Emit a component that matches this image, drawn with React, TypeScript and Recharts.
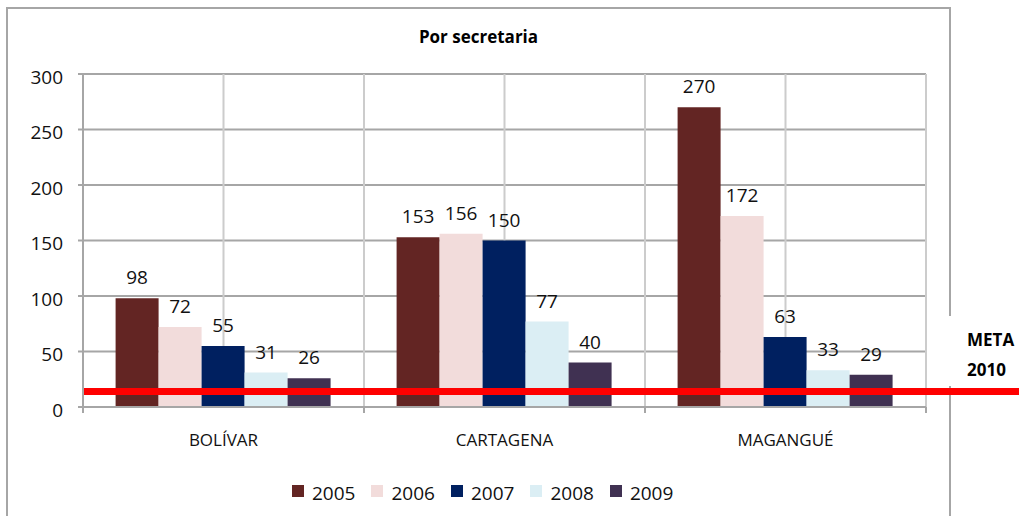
import { BarChart, Bar, XAxis, YAxis, CartesianGrid, Legend, ReferenceLine, LabelList } from "recharts"

const categories = ["BOLÍVAR", "CARTAGENA", "MAGANGUÉ"]
const years = ["2005", "2006", "2007", "2008", "2009"]
const values2005 = [98, 153, 270]
const values2006 = [72, 156, 172]
const values2007 = [55, 150, 63]
const values2008 = [31, 77, 33]
const values2009 = [26, 40, 29]
const yTicks = [0, 50, 100, 150, 200, 250, 300]
const meta2010 = 14

const seriesValues = [values2005, values2006, values2007, values2008, values2009]
const YEAR_COLORS = ["#632523", "#f2dcdb", "#002060", "#dbeef4", "#403152"]

const data = categories.map((name, i) => {
  const row: Record<string, string | number> = { name }
  years.forEach((year, j) => {
    row[year] = seriesValues[j][i]
  })
  return row
})

const CHART_W = 1019
const CHART_H = 516
const PLOT_LEFT = 83
const PLOT_RIGHT = 926
const PLOT_BOTTOM = 407
const LEGEND_H = 24
const GRID_H = "#a6a6a6"
const GRID_V = "#cccccc"
const FONT = "'Open Sans', sans-serif"

function CategoryTick(props: any) {
  const { x, payload, index } = props
  const band = (PLOT_RIGHT - PLOT_LEFT) / categories.length
  return (
    <g>
      <line x1={x - band / 2} x2={x - band / 2} y1={PLOT_BOTTOM} y2={PLOT_BOTTOM + 6} stroke={GRID_H} strokeWidth={2} />
      {index === categories.length - 1 && (
        <line x1={x + band / 2} x2={x + band / 2} y1={PLOT_BOTTOM} y2={PLOT_BOTTOM + 6} stroke={GRID_H} strokeWidth={2} />
      )}
      <text x={x} y={PLOT_BOTTOM + 39} textAnchor="middle" fontSize={17} fill="#111">
        {payload.value}
      </text>
    </g>
  )
}

function YearLegend() {
  return (
    <div style={{ display: "flex", alignItems: "center", height: LEGEND_H, fontSize: 19, fontFamily: FONT, color: "#111" }}>
      {years.map((year, i) => (
        <div key={year} style={{ display: "flex", alignItems: "center", marginRight: 16 }}>
          <span
            style={{ width: 12, height: 12, background: YEAR_COLORS[i], marginRight: 8, position: "relative", top: -2 }}
          />
          <span>{year}</span>
        </div>
      ))}
    </div>
  )
}

function MetaLine(props: any) {
  return (
    <line x1={props.x1} y1={props.y1} x2={CHART_W} y2={props.y2} stroke="#ff0000" strokeWidth={7} />
  )
}

export default function App() {
  return (
    <div style={{ position: "absolute", left: 0, top: 0, width: CHART_W, height: CHART_H, background: "#fff", overflow: "hidden" }}>
      <div
        style={{
          position: "absolute",
          left: 6,
          top: 7,
          width: 941,
          height: 530,
          border: "2px solid #a6a6a6",
        }}
      />
      <div
        style={{
          position: "absolute",
          left: 6,
          top: 27,
          width: 945,
          textAlign: "center",
          fontFamily: FONT,
          fontWeight: 700,
          fontSize: 17,
          lineHeight: "20px",
          color: "#000",
        }}
      >
        Por secretaria
      </div>
      <div style={{ position: "absolute", left: 0, top: 0 }}>
        <BarChart
          width={CHART_W}
          height={CHART_H}
          data={data}
          margin={{ top: 74, right: CHART_W - PLOT_RIGHT, left: 0, bottom: 11 }}
          barCategoryGap="11.6%"
          barGap={0}
          style={{ fontFamily: FONT }}
        >
          <CartesianGrid horizontal={true} vertical={false} stroke={GRID_H} strokeWidth={2} />
          <CartesianGrid
            horizontal={false}
            vertical={true}
            stroke={GRID_V}
            strokeWidth={2}
            verticalCoordinatesGenerator={({ offset }: any) => {
              const band = offset.width / categories.length
              const xs: number[] = []
              for (let i = 0; i <= categories.length * 2; i++) xs.push(offset.left + (band / 2) * i)
              return xs
            }}
          />
          <XAxis
            dataKey="name"
            height={CHART_H - 11 - LEGEND_H - PLOT_BOTTOM}
            axisLine={{ stroke: GRID_H, strokeWidth: 2 }}
            tickLine={false}
            tick={<CategoryTick />}
            interval={0}
          />
          <YAxis
            width={PLOT_LEFT}
            domain={[0, 300]}
            ticks={yTicks}
            axisLine={{ stroke: GRID_H, strokeWidth: 2 }}
            tickLine={{ stroke: GRID_H, strokeWidth: 2 }}
            tickSize={5}
            tickMargin={15}
            tick={{ fontSize: 19, fill: "#111", dy: 3 }}
          />
          <Legend
            content={<YearLegend />}
            verticalAlign="bottom"
            wrapperStyle={{ left: 292, bottom: 11, width: "auto", height: LEGEND_H }}
          />
          {years.map((year, i) => (
            <Bar key={year} dataKey={year} fill={YEAR_COLORS[i]} isAnimationActive={false}>
              <LabelList dataKey={year} position="top" offset={14} fontSize={19} fill="#111" />
            </Bar>
          ))}
          <ReferenceLine y={meta2010} stroke="#ff0000" strokeWidth={7} shape={<MetaLine />} />
        </BarChart>
      </div>
      <div
        style={{
          position: "absolute",
          left: 945,
          top: 316,
          width: 74,
          height: 70,
          paddingTop: 9,
          paddingLeft: 22,
          boxSizing: "border-box",
          background: "#fff",
          fontFamily: FONT,
          fontWeight: 700,
          fontSize: 17,
          lineHeight: "30px",
          color: "#000",
        }}
      >
        META
        <br />
        2010
      </div>
    </div>
  )
}
